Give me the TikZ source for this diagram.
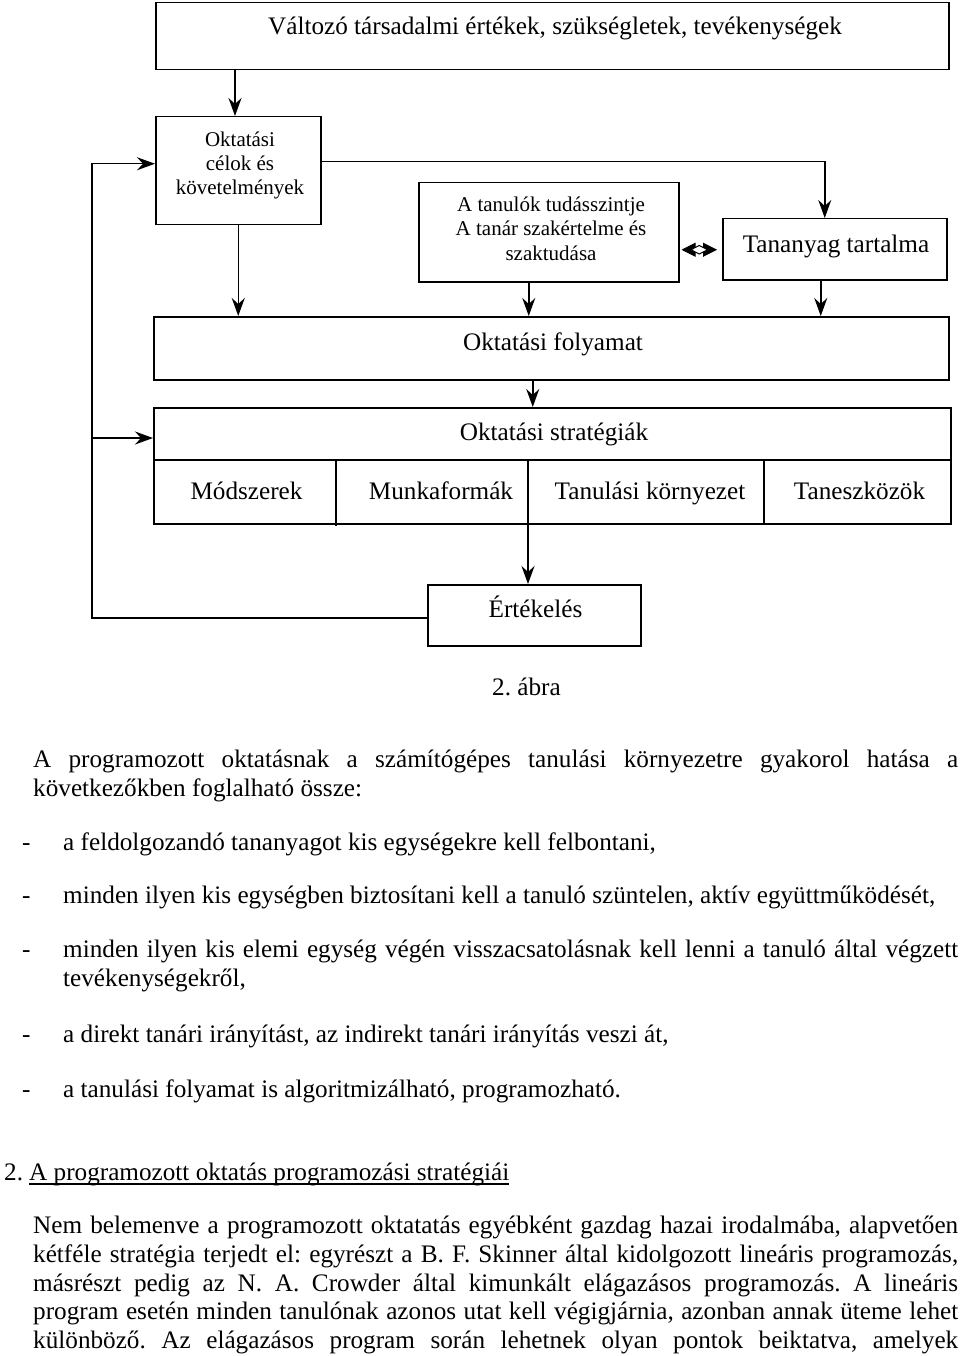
\documentclass[tikz,border=0pt]{standalone}
\usepackage{fontspec}
\setmainfont{Liberation Serif}
\usetikzlibrary{arrows.meta,shapes.geometric,calc}
\frenchspacing
\begin{document}
\begin{tikzpicture}[x=1pt,y=-1pt,
  box/.style={draw, line width=1.5pt, inner sep=0pt, anchor=north west},
  bigtxt/.style={font=\fontsize{25.2}{29}\selectfont, inner sep=0pt, anchor=base},
  smalltxt/.style={font=\fontsize{21}{24}\selectfont, inner sep=0pt, anchor=base},
  bodyw/.style={font=\fontsize{25.2}{29}\selectfont, inner sep=0pt, anchor=base west},
  arr/.style={line width=1.5pt, -{Stealth[length=18pt,width=13pt,inset=6pt]}},
  ln/.style={line width=1.5pt}]
\useasboundingbox (0,0) rectangle (960,1356);
% boxes
\node[box, minimum width=793pt, minimum height=67pt] (top) at (155,2) {};
\node[box, minimum width=165pt, minimum height=108pt] (celok) at (155,116) {};
\node[box, minimum width=260pt, minimum height=99pt] (tanulok) at (418,182) {};
\node[box, minimum width=224pt, minimum height=61pt] (tananyag) at (722,218) {};
\node[box, minimum width=795pt, minimum height=63pt] (folyamat) at (153,316) {};
\node[box, minimum width=797pt, minimum height=116pt] (strat) at (153,407) {};
\node[box, minimum width=213pt, minimum height=61pt] (ertekeles) at (427,584) {};
% texts in boxes
\node[bigtxt] (toptxt) at (555,35) {Változó társadalmi értékek, szükségletek, tevékenységek};
\node[smalltxt] (c1) at (240,147) {Oktatási};
\node[smalltxt] (c2) at (240,171) {célok és};
\node[smalltxt] (c3) at (240,195) {követelmények};
\node[smalltxt] (t1) at (551,212) {A tanulók tudásszintje};
\node[smalltxt] (t2) at (551,236) {A tanár szakértelme és};
\node[smalltxt] (t3) at (551,260) {szaktudása};
\node[bigtxt] (tatxt) at (836,252) {Tananyag tartalma};
\node[bigtxt] (fotxt) at (553,350) {Oktatási folyamat};
\node[bigtxt] (sttxt) at (554,440) {Oktatási stratégiák};
\node[bigtxt] (m1) at (246.5,499) {Módszerek};
\node[bigtxt] (m2) at (441,499) {Munkaformák};
\node[bigtxt] (m3) at (650,499) {Tanulási környezet};
\node[bigtxt] (m4) at (859.5,499) {Taneszközök};
\node[bigtxt] (ertxt) at (535.5,617) {Értékelés};
% strategy box inner lines
\coordinate (sdiv) at ([yshift=-53pt]strat.north west);
\draw[ln] (sdiv) -- ++(799,0);
\draw[ln] (336,460) -- (336,526);
\draw[ln] (764,460) -- (764,523);
% connectors
\draw[arr] (235,0 |- top.south) -- (235,0 |- celok.north);
\draw[arr] (celok.south) -- (celok.south |- folyamat.north);
\draw[arr] ([yshift=9pt]celok.east) -| ([xshift=-10pt]tananyag.north);
\draw[arr] ([xshift=-20pt]tanulok.south) -- ([xshift=-20pt]tanulok.south |- folyamat.north);
\draw[arr] ([xshift=-14pt]tananyag.south) -- ([xshift=-14pt]tananyag.south |- folyamat.north);
\draw[arr] ([xshift=-18.5pt]folyamat.south) -- ([xshift=-18.5pt]folyamat.south |- strat.north);
\draw[arr] (528,460) -- (528,0 |- ertekeles.north);
\coordinate (fb) at (92,0);
\coordinate (ew) at ([yshift=-2.5pt]ertekeles.west);
\coordinate (cw) at ([yshift=7pt]celok.west);
\draw[arr] (ew) -- (ew -| fb) |- (cw);
\coordinate (sin) at ([yshift=-31pt]strat.north west);
\draw[arr] (sin -| fb) -- (sin);
% bidirectional
\coordinate (bl) at ([yshift=-17.5pt]tanulok.east);
\draw[line width=1pt, {Stealth[length=14pt,width=14pt,inset=0pt]}-{Stealth[length=14pt,width=14pt,inset=0pt]}, shorten <=2pt, shorten >=5pt] (bl) -- (bl -| tananyag.west);
\node[diamond, draw, fill=white, line width=1pt, minimum width=17pt, minimum height=9pt, inner sep=0pt] (bd) at ($(bl)!0.5!(bl -| tananyag.west)+(-1.5,0)$) {};
% caption and body text
\node[bigtxt] (cap) at (526.5,695) {2. ábra};
\node[bodyw] (l1) at (33,767) {\makebox[925pt][s]{A programozott oktatásnak a számítógépes tanulási környezetre gyakorol hatása a}};
\node[bodyw] (l2) at (33,796) {következőkben foglalható össze:};
\node[bodyw] (d1) at (22,850) {-};
\node[bodyw] (b1) at (63,850) {a feldolgozandó tananyagot kis egységekre kell felbontani,};
\node[bodyw] (d2) at (22,903) {-};
\node[bodyw] (b2) at (63,903) {minden ilyen kis egységben biztosítani kell a tanuló szüntelen, aktív együttműködését,};
\node[bodyw] (d3) at (22,957) {-};
\node[bodyw] (b3) at (63,957) {\makebox[895pt][s]{minden ilyen kis elemi egység végén visszacsatolásnak kell lenni a tanuló által végzett}};
\node[bodyw] (b3b) at (63,986) {tevékenységekről,};
\node[bodyw] (d4) at (22,1042) {-};
\node[bodyw] (b4) at (63,1042) {a direkt tanári irányítást, az indirekt tanári irányítás veszi át,};
\node[bodyw] (d5) at (22,1097) {-};
\node[bodyw] (b5) at (63,1097) {a tanulási folyamat is algoritmizálható, programozható.};
\node[bodyw] (hn) at (4,1180) {2.};
\node[bodyw] (h2) at (29,1180) {A programozott oktatás programozási stratégiái};
\draw[line width=1.2pt] ([yshift=-4pt]h2.base west) -- ([yshift=-4pt]h2.base east);
\node[bodyw] (p1) at (33,1233) {\makebox[925pt][s]{Nem belemenve a programozott oktatatás egyébként gazdag hazai irodalmába, alapvetően}};
\node[bodyw] (p2) at (33,1262) {\makebox[925pt][s]{kétféle stratégia terjedt el: egyrészt a B. F. Skinner által kidolgozott lineáris programozás,}};
\node[bodyw] (p3) at (33,1291) {\makebox[925pt][s]{másrészt pedig az N. A. Crowder által kimunkált elágazásos programozás. A lineáris}};
\node[bodyw] (p4) at (33,1319) {\makebox[925pt][s]{program esetén minden tanulónak azonos utat kell végigjárnia, azonban annak üteme lehet}};
\node[bodyw] (p5) at (33,1348) {\makebox[925pt][s]{különböző. Az elágazásos program során lehetnek olyan pontok beiktatva, amelyek}};
\end{tikzpicture}
\end{document}
